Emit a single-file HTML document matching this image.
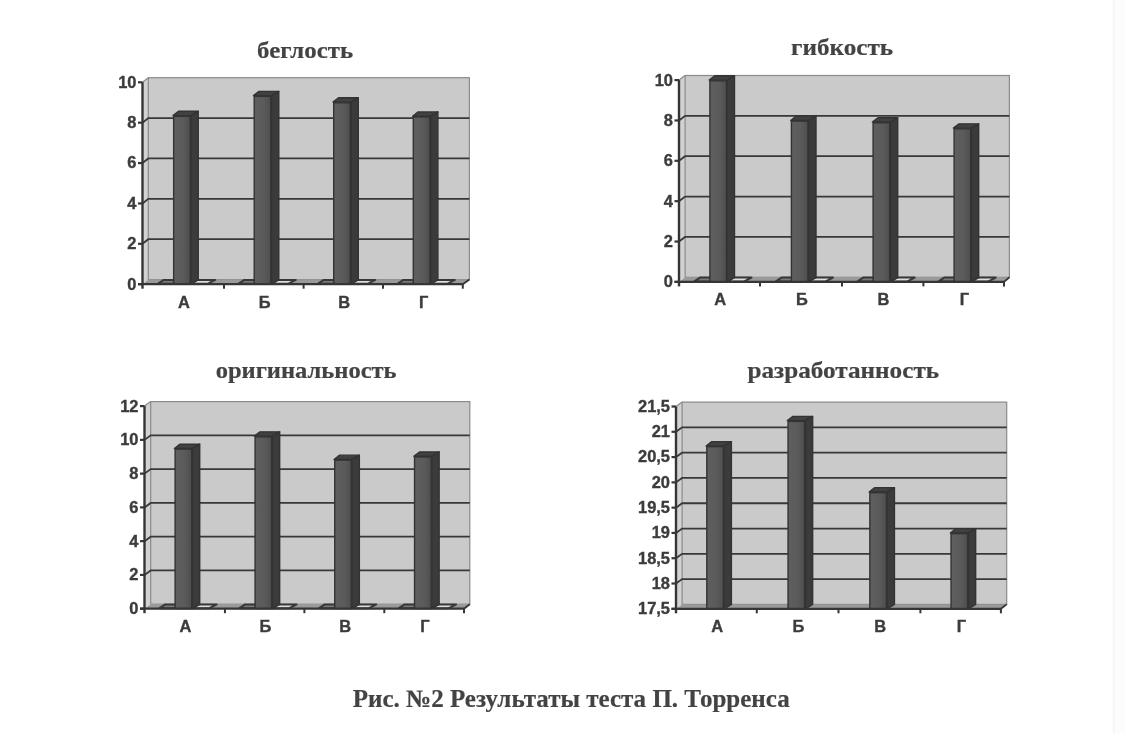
<!DOCTYPE html>
<html><head><meta charset="utf-8"><title>Рис. №2 Результаты теста П. Торренса</title>
<style>
html,body{margin:0;padding:0;background:#fff;}
body{width:1125px;height:733px;overflow:hidden;position:relative;}
svg{position:absolute;left:0;top:0;filter:grayscale(100%);}
.yl{font-family:"Liberation Sans",Arial,sans-serif;font-weight:bold;font-size:15.6px;fill:#3c3c3c;stroke:#3c3c3c;stroke-width:0.35px;}
.tt{font-family:"Liberation Serif","Times New Roman",serif;font-weight:bold;font-size:25px;fill:#434343;stroke:#434343;stroke-width:0.2px;}
.ts{font-size:24px;}
</style></head><body>
<svg width="1125" height="733" viewBox="0 0 1125 733">
<defs><linearGradient id="fg" x1="0" y1="0" x2="1" y2="0"><stop offset="0" stop-color="#5f5f5f"/><stop offset="0.6" stop-color="#5a5a5a"/><stop offset="1" stop-color="#4e4e4e"/></linearGradient></defs>
<rect x="1112" y="0" width="13" height="733" fill="#fcfcfc"/><rect x="1113" y="0" width="2" height="733" fill="#f7f7f7"/>
<polygon points="142.5,284.2 148.3,279.6 148.3,77.7 142.5,82.3" fill="#d2d2d2"/>
<rect x="148.3" y="77.7" width="321.1" height="201.9" fill="#cacaca" stroke="#8a8a8a" stroke-width="1.2"/>
<line x1="142.5" y1="82.3" x2="148.3" y2="77.7" stroke="#8a8a8a" stroke-width="1.2"/>
<polygon points="142.5,284.2 462.8,284.2 469.4,279.6 148.3,279.6" fill="#9a9a9a"/>
<polyline points="142.5,122.68 148.3,118.08 469.4,118.08" fill="none" stroke="#383838" stroke-width="1.8"/>
<polyline points="142.5,163.06 148.3,158.46 469.4,158.46" fill="none" stroke="#383838" stroke-width="1.8"/>
<polyline points="142.5,203.44 148.3,198.84 469.4,198.84" fill="none" stroke="#383838" stroke-width="1.8"/>
<polyline points="142.5,243.82 148.3,239.22 469.4,239.22" fill="none" stroke="#383838" stroke-width="1.8"/>
<polygon points="158.15,283.7 163.75,279.9 180.25,279.9 172.95,283.7" fill="#7a7a7a" stroke="#383838" stroke-width="2" stroke-linejoin="round"/>
<polygon points="190.95,283.7 196.55,279.9 215.25,279.9 207.95,283.7" fill="#dedede" stroke="#383838" stroke-width="2" stroke-linejoin="round"/>
<polygon points="172.95,115.61 178.55,111.31 198.25,111.31 190.95,115.61" fill="#414141" stroke="#333333" stroke-width="1.4" stroke-linejoin="round"/>
<polygon points="190.95,115.61 198.25,111.31 198.25,279.9 190.95,284.2" fill="#3b3b3b" stroke="#333333" stroke-width="1.4" stroke-linejoin="round"/>
<rect x="173.65" y="116.31" width="16.6" height="167.89" fill="url(#fg)" stroke="#333333" stroke-width="1.4"/>
<polygon points="238.7,283.7 244.3,279.9 260.8,279.9 253.5,283.7" fill="#7a7a7a" stroke="#383838" stroke-width="2" stroke-linejoin="round"/>
<polygon points="271.5,283.7 277.1,279.9 295.8,279.9 288.5,283.7" fill="#dedede" stroke="#383838" stroke-width="2" stroke-linejoin="round"/>
<polygon points="253.5,95.63 259.1,91.33 278.8,91.33 271.5,95.63" fill="#414141" stroke="#333333" stroke-width="1.4" stroke-linejoin="round"/>
<polygon points="271.5,95.63 278.8,91.33 278.8,279.9 271.5,284.2" fill="#3b3b3b" stroke="#333333" stroke-width="1.4" stroke-linejoin="round"/>
<rect x="254.2" y="96.33" width="16.6" height="187.87" fill="url(#fg)" stroke="#333333" stroke-width="1.4"/>
<polygon points="318.2,283.7 323.8,279.9 340.3,279.9 333,283.7" fill="#7a7a7a" stroke="#383838" stroke-width="2" stroke-linejoin="round"/>
<polygon points="351,283.7 356.6,279.9 375.3,279.9 368,283.7" fill="#dedede" stroke="#383838" stroke-width="2" stroke-linejoin="round"/>
<polygon points="333,102.09 338.6,97.79 358.3,97.79 351,102.09" fill="#414141" stroke="#333333" stroke-width="1.4" stroke-linejoin="round"/>
<polygon points="351,102.09 358.3,97.79 358.3,279.9 351,284.2" fill="#3b3b3b" stroke="#333333" stroke-width="1.4" stroke-linejoin="round"/>
<rect x="333.7" y="102.79" width="16.6" height="181.41" fill="url(#fg)" stroke="#333333" stroke-width="1.4"/>
<polygon points="397.8,283.7 403.4,279.9 419.9,279.9 412.6,283.7" fill="#7a7a7a" stroke="#383838" stroke-width="2" stroke-linejoin="round"/>
<polygon points="430.6,283.7 436.2,279.9 454.9,279.9 447.6,283.7" fill="#dedede" stroke="#383838" stroke-width="2" stroke-linejoin="round"/>
<polygon points="412.6,116.22 418.2,111.92 437.9,111.92 430.6,116.22" fill="#414141" stroke="#333333" stroke-width="1.4" stroke-linejoin="round"/>
<polygon points="430.6,116.22 437.9,111.92 437.9,279.9 430.6,284.2" fill="#3b3b3b" stroke="#333333" stroke-width="1.4" stroke-linejoin="round"/>
<rect x="413.3" y="116.92" width="16.6" height="167.28" fill="url(#fg)" stroke="#333333" stroke-width="1.4"/>
<line x1="142.5" y1="82.3" x2="142.5" y2="288.7" stroke="#353535" stroke-width="2.4"/>
<line x1="138" y1="284.2" x2="462.8" y2="284.2" stroke="#353535" stroke-width="2.2"/>
<line x1="462.8" y1="284.2" x2="469.4" y2="279.6" stroke="#353535" stroke-width="1.8"/>
<line x1="138" y1="82.3" x2="142.5" y2="82.3" stroke="#353535" stroke-width="2.2"/>
<line x1="138" y1="122.68" x2="142.5" y2="122.68" stroke="#353535" stroke-width="2.2"/>
<line x1="138" y1="163.06" x2="142.5" y2="163.06" stroke="#353535" stroke-width="2.2"/>
<line x1="138" y1="203.44" x2="142.5" y2="203.44" stroke="#353535" stroke-width="2.2"/>
<line x1="138" y1="243.82" x2="142.5" y2="243.82" stroke="#353535" stroke-width="2.2"/>
<line x1="138" y1="284.2" x2="142.5" y2="284.2" stroke="#353535" stroke-width="2.2"/>
<line x1="224" y1="284.2" x2="224" y2="288.7" stroke="#353535" stroke-width="2"/>
<line x1="303.6" y1="284.2" x2="303.6" y2="288.7" stroke="#353535" stroke-width="2"/>
<line x1="383" y1="284.2" x2="383" y2="288.7" stroke="#353535" stroke-width="2"/>
<line x1="462.8" y1="284.2" x2="462.8" y2="288.7" stroke="#353535" stroke-width="2"/>
<text transform="translate(136.5,289.6) scale(1.055,1)" text-anchor="end" class="yl">0</text>
<text transform="translate(136.5,249.22) scale(1.055,1)" text-anchor="end" class="yl">2</text>
<text transform="translate(136.5,208.84) scale(1.055,1)" text-anchor="end" class="yl">4</text>
<text transform="translate(136.5,168.46) scale(1.055,1)" text-anchor="end" class="yl">6</text>
<text transform="translate(136.5,128.08) scale(1.055,1)" text-anchor="end" class="yl">8</text>
<text transform="translate(136.5,87.7) scale(1.055,1)" text-anchor="end" class="yl">10</text>
<text transform="translate(184.05,307.6) scale(1.055,1)" text-anchor="middle" class="yl">А</text>
<text transform="translate(264.6,307.6) scale(1.055,1)" text-anchor="middle" class="yl">Б</text>
<text transform="translate(344.1,307.6) scale(1.055,1)" text-anchor="middle" class="yl">В</text>
<text transform="translate(423.7,307.6) scale(1.055,1)" text-anchor="middle" class="yl">Г</text>
<text x="257.1" y="58.1" textLength="96" lengthAdjust="spacingAndGlyphs" class="tt ts">беглость</text>
<polygon points="679,281.9 685.1,277.3 685.1,75.5 679,80.1" fill="#d2d2d2"/>
<rect x="685.1" y="75.5" width="324.3" height="201.8" fill="#cacaca" stroke="#8a8a8a" stroke-width="1.2"/>
<line x1="679" y1="80.1" x2="685.1" y2="75.5" stroke="#8a8a8a" stroke-width="1.2"/>
<polygon points="679,281.9 1004,281.9 1009.4,277.3 685.1,277.3" fill="#9a9a9a"/>
<polyline points="679,120.46 685.1,115.86 1009.4,115.86" fill="none" stroke="#383838" stroke-width="1.8"/>
<polyline points="679,160.82 685.1,156.22 1009.4,156.22" fill="none" stroke="#383838" stroke-width="1.8"/>
<polyline points="679,201.18 685.1,196.58 1009.4,196.58" fill="none" stroke="#383838" stroke-width="1.8"/>
<polyline points="679,241.54 685.1,236.94 1009.4,236.94" fill="none" stroke="#383838" stroke-width="1.8"/>
<polygon points="694.4,281.4 700,277.6 716.5,277.6 709.2,281.4" fill="#7a7a7a" stroke="#383838" stroke-width="2" stroke-linejoin="round"/>
<polygon points="727.2,281.4 732.8,277.6 751.5,277.6 744.2,281.4" fill="#dedede" stroke="#383838" stroke-width="2" stroke-linejoin="round"/>
<polygon points="709.2,80.1 714.8,75.8 734.5,75.8 727.2,80.1" fill="#414141" stroke="#333333" stroke-width="1.4" stroke-linejoin="round"/>
<polygon points="727.2,80.1 734.5,75.8 734.5,277.6 727.2,281.9" fill="#3b3b3b" stroke="#333333" stroke-width="1.4" stroke-linejoin="round"/>
<rect x="709.9" y="80.8" width="16.6" height="201.1" fill="url(#fg)" stroke="#333333" stroke-width="1.4"/>
<polygon points="775.9,281.4 781.5,277.6 798,277.6 790.7,281.4" fill="#7a7a7a" stroke="#383838" stroke-width="2" stroke-linejoin="round"/>
<polygon points="808.7,281.4 814.3,277.6 833,277.6 825.7,281.4" fill="#dedede" stroke="#383838" stroke-width="2" stroke-linejoin="round"/>
<polygon points="790.7,120.46 796.3,116.16 816,116.16 808.7,120.46" fill="#414141" stroke="#333333" stroke-width="1.4" stroke-linejoin="round"/>
<polygon points="808.7,120.46 816,116.16 816,277.6 808.7,281.9" fill="#3b3b3b" stroke="#333333" stroke-width="1.4" stroke-linejoin="round"/>
<rect x="791.4" y="121.16" width="16.6" height="160.74" fill="url(#fg)" stroke="#333333" stroke-width="1.4"/>
<polygon points="857.6,281.4 863.2,277.6 879.7,277.6 872.4,281.4" fill="#7a7a7a" stroke="#383838" stroke-width="2" stroke-linejoin="round"/>
<polygon points="890.4,281.4 896,277.6 914.7,277.6 907.4,281.4" fill="#dedede" stroke="#383838" stroke-width="2" stroke-linejoin="round"/>
<polygon points="872.4,122.07 878,117.77 897.7,117.77 890.4,122.07" fill="#414141" stroke="#333333" stroke-width="1.4" stroke-linejoin="round"/>
<polygon points="890.4,122.07 897.7,117.77 897.7,277.6 890.4,281.9" fill="#3b3b3b" stroke="#333333" stroke-width="1.4" stroke-linejoin="round"/>
<rect x="873.1" y="122.77" width="16.6" height="159.13" fill="url(#fg)" stroke="#333333" stroke-width="1.4"/>
<polygon points="938.6,281.4 944.2,277.6 960.7,277.6 953.4,281.4" fill="#7a7a7a" stroke="#383838" stroke-width="2" stroke-linejoin="round"/>
<polygon points="971.4,281.4 977,277.6 995.7,277.6 988.4,281.4" fill="#dedede" stroke="#383838" stroke-width="2" stroke-linejoin="round"/>
<polygon points="953.4,128.13 959,123.83 978.7,123.83 971.4,128.13" fill="#414141" stroke="#333333" stroke-width="1.4" stroke-linejoin="round"/>
<polygon points="971.4,128.13 978.7,123.83 978.7,277.6 971.4,281.9" fill="#3b3b3b" stroke="#333333" stroke-width="1.4" stroke-linejoin="round"/>
<rect x="954.1" y="128.83" width="16.6" height="153.07" fill="url(#fg)" stroke="#333333" stroke-width="1.4"/>
<line x1="679" y1="80.1" x2="679" y2="286.4" stroke="#353535" stroke-width="2.4"/>
<line x1="674.5" y1="281.9" x2="1004" y2="281.9" stroke="#353535" stroke-width="2.2"/>
<line x1="1004" y1="281.9" x2="1009.4" y2="277.3" stroke="#353535" stroke-width="1.8"/>
<line x1="674.5" y1="80.1" x2="679" y2="80.1" stroke="#353535" stroke-width="2.2"/>
<line x1="674.5" y1="120.46" x2="679" y2="120.46" stroke="#353535" stroke-width="2.2"/>
<line x1="674.5" y1="160.82" x2="679" y2="160.82" stroke="#353535" stroke-width="2.2"/>
<line x1="674.5" y1="201.18" x2="679" y2="201.18" stroke="#353535" stroke-width="2.2"/>
<line x1="674.5" y1="241.54" x2="679" y2="241.54" stroke="#353535" stroke-width="2.2"/>
<line x1="674.5" y1="281.9" x2="679" y2="281.9" stroke="#353535" stroke-width="2.2"/>
<line x1="760" y1="281.9" x2="760" y2="286.4" stroke="#353535" stroke-width="2"/>
<line x1="842" y1="281.9" x2="842" y2="286.4" stroke="#353535" stroke-width="2"/>
<line x1="923.4" y1="281.9" x2="923.4" y2="286.4" stroke="#353535" stroke-width="2"/>
<line x1="1004" y1="281.9" x2="1004" y2="286.4" stroke="#353535" stroke-width="2"/>
<text transform="translate(673,287.3) scale(1.055,1)" text-anchor="end" class="yl">0</text>
<text transform="translate(673,246.94) scale(1.055,1)" text-anchor="end" class="yl">2</text>
<text transform="translate(673,206.58) scale(1.055,1)" text-anchor="end" class="yl">4</text>
<text transform="translate(673,166.22) scale(1.055,1)" text-anchor="end" class="yl">6</text>
<text transform="translate(673,125.86) scale(1.055,1)" text-anchor="end" class="yl">8</text>
<text transform="translate(673,85.5) scale(1.055,1)" text-anchor="end" class="yl">10</text>
<text transform="translate(720.3,304.6) scale(1.055,1)" text-anchor="middle" class="yl">А</text>
<text transform="translate(801.8,304.6) scale(1.055,1)" text-anchor="middle" class="yl">Б</text>
<text transform="translate(883.5,304.6) scale(1.055,1)" text-anchor="middle" class="yl">В</text>
<text transform="translate(964.5,304.6) scale(1.055,1)" text-anchor="middle" class="yl">Г</text>
<text x="791" y="54.9" textLength="102.1" lengthAdjust="spacingAndGlyphs" class="tt ts">гибкость</text>
<polygon points="144.5,608.7 150.7,604.2 150.7,401.6 144.5,406.1" fill="#d2d2d2"/>
<rect x="150.7" y="401.6" width="319.1" height="202.6" fill="#cacaca" stroke="#8a8a8a" stroke-width="1.2"/>
<line x1="144.5" y1="406.1" x2="150.7" y2="401.6" stroke="#8a8a8a" stroke-width="1.2"/>
<polygon points="144.5,608.7 464,608.7 469.8,604.2 150.7,604.2" fill="#9a9a9a"/>
<polyline points="144.5,439.87 150.7,435.37 469.8,435.37" fill="none" stroke="#383838" stroke-width="1.8"/>
<polyline points="144.5,473.63 150.7,469.13 469.8,469.13" fill="none" stroke="#383838" stroke-width="1.8"/>
<polyline points="144.5,507.4 150.7,502.9 469.8,502.9" fill="none" stroke="#383838" stroke-width="1.8"/>
<polyline points="144.5,541.17 150.7,536.67 469.8,536.67" fill="none" stroke="#383838" stroke-width="1.8"/>
<polyline points="144.5,574.93 150.7,570.43 469.8,570.43" fill="none" stroke="#383838" stroke-width="1.8"/>
<polygon points="159.62,608.2 165.22,604.4 181.72,604.4 174.42,608.2" fill="#7a7a7a" stroke="#383838" stroke-width="2" stroke-linejoin="round"/>
<polygon points="192.42,608.2 198.02,604.4 216.72,604.4 209.42,608.2" fill="#dedede" stroke="#383838" stroke-width="2" stroke-linejoin="round"/>
<polygon points="174.42,448.48 180.02,444.18 199.72,444.18 192.42,448.48" fill="#414141" stroke="#333333" stroke-width="1.4" stroke-linejoin="round"/>
<polygon points="192.42,448.48 199.72,444.18 199.72,604.4 192.42,608.7" fill="#3b3b3b" stroke="#333333" stroke-width="1.4" stroke-linejoin="round"/>
<rect x="175.12" y="449.18" width="16.6" height="159.52" fill="url(#fg)" stroke="#333333" stroke-width="1.4"/>
<polygon points="239.57,608.2 245.17,604.4 261.67,604.4 254.37,608.2" fill="#7a7a7a" stroke="#383838" stroke-width="2" stroke-linejoin="round"/>
<polygon points="272.37,608.2 277.97,604.4 296.67,604.4 289.37,608.2" fill="#dedede" stroke="#383838" stroke-width="2" stroke-linejoin="round"/>
<polygon points="254.37,436.15 259.97,431.85 279.67,431.85 272.37,436.15" fill="#414141" stroke="#333333" stroke-width="1.4" stroke-linejoin="round"/>
<polygon points="272.37,436.15 279.67,431.85 279.67,604.4 272.37,608.7" fill="#3b3b3b" stroke="#333333" stroke-width="1.4" stroke-linejoin="round"/>
<rect x="255.07" y="436.85" width="16.6" height="171.85" fill="url(#fg)" stroke="#333333" stroke-width="1.4"/>
<polygon points="319.25,608.2 324.85,604.4 341.35,604.4 334.05,608.2" fill="#7a7a7a" stroke="#383838" stroke-width="2" stroke-linejoin="round"/>
<polygon points="352.05,608.2 357.65,604.4 376.35,604.4 369.05,608.2" fill="#dedede" stroke="#383838" stroke-width="2" stroke-linejoin="round"/>
<polygon points="334.05,459.45 339.65,455.15 359.35,455.15 352.05,459.45" fill="#414141" stroke="#333333" stroke-width="1.4" stroke-linejoin="round"/>
<polygon points="352.05,459.45 359.35,455.15 359.35,604.4 352.05,608.7" fill="#3b3b3b" stroke="#333333" stroke-width="1.4" stroke-linejoin="round"/>
<rect x="334.75" y="460.15" width="16.6" height="148.55" fill="url(#fg)" stroke="#333333" stroke-width="1.4"/>
<polygon points="399.05,608.2 404.65,604.4 421.15,604.4 413.85,608.2" fill="#7a7a7a" stroke="#383838" stroke-width="2" stroke-linejoin="round"/>
<polygon points="431.85,608.2 437.45,604.4 456.15,604.4 448.85,608.2" fill="#dedede" stroke="#383838" stroke-width="2" stroke-linejoin="round"/>
<polygon points="413.85,456.24 419.45,451.94 439.15,451.94 431.85,456.24" fill="#414141" stroke="#333333" stroke-width="1.4" stroke-linejoin="round"/>
<polygon points="431.85,456.24 439.15,451.94 439.15,604.4 431.85,608.7" fill="#3b3b3b" stroke="#333333" stroke-width="1.4" stroke-linejoin="round"/>
<rect x="414.55" y="456.94" width="16.6" height="151.76" fill="url(#fg)" stroke="#333333" stroke-width="1.4"/>
<line x1="144.5" y1="406.1" x2="144.5" y2="613.2" stroke="#353535" stroke-width="2.4"/>
<line x1="140" y1="608.7" x2="464" y2="608.7" stroke="#353535" stroke-width="2.2"/>
<line x1="464" y1="608.7" x2="469.8" y2="604.2" stroke="#353535" stroke-width="1.8"/>
<line x1="140" y1="406.1" x2="144.5" y2="406.1" stroke="#353535" stroke-width="2.2"/>
<line x1="140" y1="439.87" x2="144.5" y2="439.87" stroke="#353535" stroke-width="2.2"/>
<line x1="140" y1="473.63" x2="144.5" y2="473.63" stroke="#353535" stroke-width="2.2"/>
<line x1="140" y1="507.4" x2="144.5" y2="507.4" stroke="#353535" stroke-width="2.2"/>
<line x1="140" y1="541.17" x2="144.5" y2="541.17" stroke="#353535" stroke-width="2.2"/>
<line x1="140" y1="574.93" x2="144.5" y2="574.93" stroke="#353535" stroke-width="2.2"/>
<line x1="140" y1="608.7" x2="144.5" y2="608.7" stroke="#353535" stroke-width="2.2"/>
<line x1="224.95" y1="608.7" x2="224.95" y2="613.2" stroke="#353535" stroke-width="2"/>
<line x1="304.4" y1="608.7" x2="304.4" y2="613.2" stroke="#353535" stroke-width="2"/>
<line x1="384.3" y1="608.7" x2="384.3" y2="613.2" stroke="#353535" stroke-width="2"/>
<line x1="464" y1="608.7" x2="464" y2="613.2" stroke="#353535" stroke-width="2"/>
<text transform="translate(138.5,614.1) scale(1.055,1)" text-anchor="end" class="yl">0</text>
<text transform="translate(138.5,580.33) scale(1.055,1)" text-anchor="end" class="yl">2</text>
<text transform="translate(138.5,546.57) scale(1.055,1)" text-anchor="end" class="yl">4</text>
<text transform="translate(138.5,512.8) scale(1.055,1)" text-anchor="end" class="yl">6</text>
<text transform="translate(138.5,479.03) scale(1.055,1)" text-anchor="end" class="yl">8</text>
<text transform="translate(138.5,445.27) scale(1.055,1)" text-anchor="end" class="yl">10</text>
<text transform="translate(138.5,411.5) scale(1.055,1)" text-anchor="end" class="yl">12</text>
<text transform="translate(185.53,632) scale(1.055,1)" text-anchor="middle" class="yl">А</text>
<text transform="translate(265.47,632) scale(1.055,1)" text-anchor="middle" class="yl">Б</text>
<text transform="translate(345.15,632) scale(1.055,1)" text-anchor="middle" class="yl">В</text>
<text transform="translate(424.95,632) scale(1.055,1)" text-anchor="middle" class="yl">Г</text>
<text x="215.7" y="377.8" textLength="180.9" lengthAdjust="spacingAndGlyphs" class="tt ts">оригинальность</text>
<polygon points="676,608.8 682.1,604.4 682.1,402.1 676,406.5" fill="#d2d2d2"/>
<rect x="682.1" y="402.1" width="324.6" height="202.3" fill="#cacaca" stroke="#8a8a8a" stroke-width="1.2"/>
<line x1="676" y1="406.5" x2="682.1" y2="402.1" stroke="#8a8a8a" stroke-width="1.2"/>
<polygon points="676,608.8 1000.9,608.8 1006.7,604.4 682.1,604.4" fill="#9a9a9a"/>
<polyline points="676,431.79 682.1,427.39 1006.7,427.39" fill="none" stroke="#383838" stroke-width="1.8"/>
<polyline points="676,457.07 682.1,452.68 1006.7,452.68" fill="none" stroke="#383838" stroke-width="1.8"/>
<polyline points="676,482.36 682.1,477.96 1006.7,477.96" fill="none" stroke="#383838" stroke-width="1.8"/>
<polyline points="676,507.65 682.1,503.25 1006.7,503.25" fill="none" stroke="#383838" stroke-width="1.8"/>
<polyline points="676,532.94 682.1,528.54 1006.7,528.54" fill="none" stroke="#383838" stroke-width="1.8"/>
<polyline points="676,558.22 682.1,553.82 1006.7,553.82" fill="none" stroke="#383838" stroke-width="1.8"/>
<polyline points="676,583.51 682.1,579.11 1006.7,579.11" fill="none" stroke="#383838" stroke-width="1.8"/>
<polygon points="706.1,445.95 711.7,441.65 731.4,441.65 724.1,445.95" fill="#414141" stroke="#333333" stroke-width="1.4" stroke-linejoin="round"/>
<polygon points="724.1,445.95 731.4,441.65 731.4,604.5 724.1,608.8" fill="#3b3b3b" stroke="#333333" stroke-width="1.4" stroke-linejoin="round"/>
<rect x="706.8" y="446.65" width="16.6" height="162.15" fill="url(#fg)" stroke="#333333" stroke-width="1.4"/>
<polygon points="787.35,420.66 792.95,416.36 812.65,416.36 805.35,420.66" fill="#414141" stroke="#333333" stroke-width="1.4" stroke-linejoin="round"/>
<polygon points="805.35,420.66 812.65,416.36 812.65,604.5 805.35,608.8" fill="#3b3b3b" stroke="#333333" stroke-width="1.4" stroke-linejoin="round"/>
<rect x="788.05" y="421.36" width="16.6" height="187.44" fill="url(#fg)" stroke="#333333" stroke-width="1.4"/>
<polygon points="869.15,491.97 874.75,487.67 894.45,487.67 887.15,491.97" fill="#414141" stroke="#333333" stroke-width="1.4" stroke-linejoin="round"/>
<polygon points="887.15,491.97 894.45,487.67 894.45,604.5 887.15,608.8" fill="#3b3b3b" stroke="#333333" stroke-width="1.4" stroke-linejoin="round"/>
<rect x="869.85" y="492.67" width="16.6" height="116.13" fill="url(#fg)" stroke="#333333" stroke-width="1.4"/>
<polygon points="950.35,532.94 955.95,528.64 975.65,528.64 968.35,532.94" fill="#414141" stroke="#333333" stroke-width="1.4" stroke-linejoin="round"/>
<polygon points="968.35,532.94 975.65,528.64 975.65,604.5 968.35,608.8" fill="#3b3b3b" stroke="#333333" stroke-width="1.4" stroke-linejoin="round"/>
<rect x="951.05" y="533.64" width="16.6" height="75.16" fill="url(#fg)" stroke="#333333" stroke-width="1.4"/>
<line x1="676" y1="406.5" x2="676" y2="613.3" stroke="#353535" stroke-width="2.4"/>
<line x1="671.5" y1="608.8" x2="1000.9" y2="608.8" stroke="#353535" stroke-width="2.2"/>
<line x1="1000.9" y1="608.8" x2="1006.7" y2="604.4" stroke="#353535" stroke-width="1.8"/>
<line x1="671.5" y1="406.5" x2="676" y2="406.5" stroke="#353535" stroke-width="2.2"/>
<line x1="671.5" y1="431.79" x2="676" y2="431.79" stroke="#353535" stroke-width="2.2"/>
<line x1="671.5" y1="457.07" x2="676" y2="457.07" stroke="#353535" stroke-width="2.2"/>
<line x1="671.5" y1="482.36" x2="676" y2="482.36" stroke="#353535" stroke-width="2.2"/>
<line x1="671.5" y1="507.65" x2="676" y2="507.65" stroke="#353535" stroke-width="2.2"/>
<line x1="671.5" y1="532.94" x2="676" y2="532.94" stroke="#353535" stroke-width="2.2"/>
<line x1="671.5" y1="558.22" x2="676" y2="558.22" stroke="#353535" stroke-width="2.2"/>
<line x1="671.5" y1="583.51" x2="676" y2="583.51" stroke="#353535" stroke-width="2.2"/>
<line x1="671.5" y1="608.8" x2="676" y2="608.8" stroke="#353535" stroke-width="2.2"/>
<line x1="756.8" y1="608.8" x2="756.8" y2="613.3" stroke="#353535" stroke-width="2"/>
<line x1="838.5" y1="608.8" x2="838.5" y2="613.3" stroke="#353535" stroke-width="2"/>
<line x1="920.4" y1="608.8" x2="920.4" y2="613.3" stroke="#353535" stroke-width="2"/>
<line x1="1000.9" y1="608.8" x2="1000.9" y2="613.3" stroke="#353535" stroke-width="2"/>
<text transform="translate(670,614.2) scale(1.055,1)" text-anchor="end" class="yl">17,5</text>
<text transform="translate(670,588.91) scale(1.055,1)" text-anchor="end" class="yl">18</text>
<text transform="translate(670,563.62) scale(1.055,1)" text-anchor="end" class="yl">18,5</text>
<text transform="translate(670,538.34) scale(1.055,1)" text-anchor="end" class="yl">19</text>
<text transform="translate(670,513.05) scale(1.055,1)" text-anchor="end" class="yl">19,5</text>
<text transform="translate(670,487.76) scale(1.055,1)" text-anchor="end" class="yl">20</text>
<text transform="translate(670,462.47) scale(1.055,1)" text-anchor="end" class="yl">20,5</text>
<text transform="translate(670,437.19) scale(1.055,1)" text-anchor="end" class="yl">21</text>
<text transform="translate(670,411.9) scale(1.055,1)" text-anchor="end" class="yl">21,5</text>
<text transform="translate(717.2,632) scale(1.055,1)" text-anchor="middle" class="yl">А</text>
<text transform="translate(798.45,632) scale(1.055,1)" text-anchor="middle" class="yl">Б</text>
<text transform="translate(880.25,632) scale(1.055,1)" text-anchor="middle" class="yl">В</text>
<text transform="translate(961.45,632) scale(1.055,1)" text-anchor="middle" class="yl">Г</text>
<text x="747.4" y="377.5" textLength="191.7" lengthAdjust="spacingAndGlyphs" class="tt ts">разработанность</text>
<text x="352.7" y="706.6" textLength="437" lengthAdjust="spacingAndGlyphs" class="tt">Рис. №2 Результаты теста П. Торренса</text>
</svg>
</body></html>
